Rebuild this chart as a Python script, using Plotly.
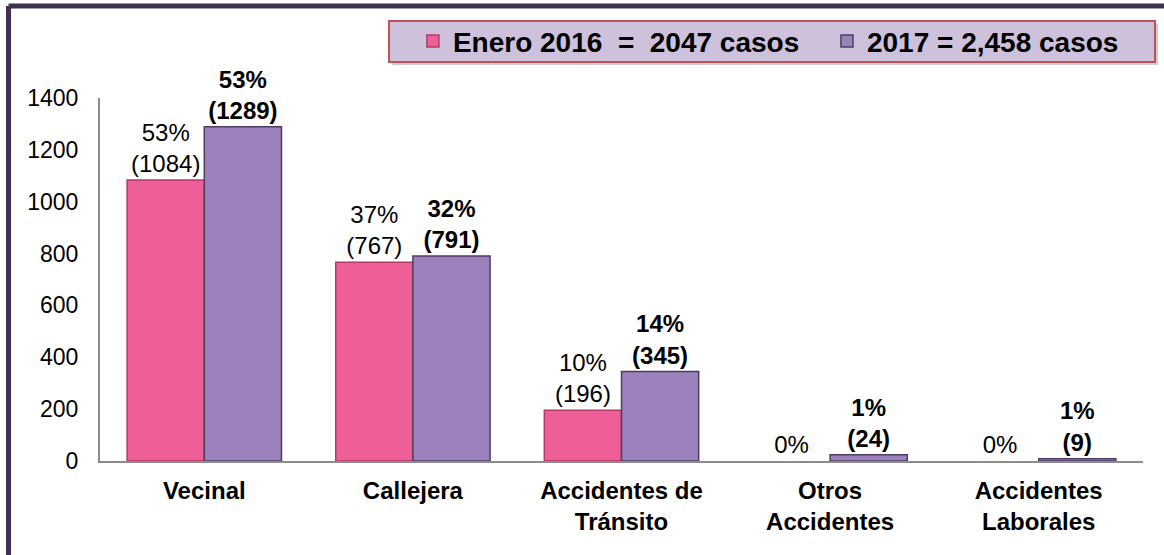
import plotly.graph_objects as go

categories = ["Vecinal", "Callejera", "Accidentes de<br>Tránsito", "Otros<br>Accidentes", "Accidentes<br>Laborales"]
values_2016 = [1084, 767, 196, 0, 0]
values_2017 = [1289, 791, 345, 24, 9]
pct_2016 = ["53%", "37%", "10%", "0%", "0%"]
pct_2017 = ["53%", "32%", "14%", "1%", "1%"]
name_2016 = "Enero 2016\u00a0\u00a0=\u00a0\u00a02047 casos"
name_2017 = "2017 = 2,458 casos"
y_ticks = [0, 200, 400, 600, 800, 1000, 1200, 1400]

FONT = "Liberation Sans, Arial"
text_2016 = [f"{p}<br>({v})" if v > 0 else p for p, v in zip(pct_2016, values_2016)]
text_2017 = [f"<b>{p}<br>({v})</b>" for p, v in zip(pct_2017, values_2017)]
line_w_2016 = [1.5 if v > 0 else 0 for v in values_2016]
line_w_2017 = [1.5 if v > 0 else 0 for v in values_2017]

fig = go.Figure()
fig.add_trace(go.Bar(
    x=categories, y=values_2016, name=name_2016, legend="legend",
    marker=dict(color="#EE5F97", line=dict(color="#B33A69", width=line_w_2016)),
    text=text_2016, textposition="outside", cliponaxis=False,
    textfont=dict(size=24, color="#000000", family=FONT),
))
fig.add_trace(go.Bar(
    x=categories, y=values_2017, name=name_2017, legend="legend2",
    marker=dict(color="#9C82BC", line=dict(color="#4E3D63", width=line_w_2017)),
    text=text_2017, textposition="outside", cliponaxis=False,
    textfont=dict(size=24, color="#000000", family=FONT),
))

legend_style = dict(
    orientation="h", yanchor="middle", y=1.156, xanchor="left",
    bgcolor="rgba(0,0,0,0)", borderwidth=0,
    font=dict(size=28, color="#000000", family=FONT, weight="bold"),
)

fig.update_layout(
    width=1164, height=555,
    margin=dict(l=100, r=21, t=98, b=94),
    paper_bgcolor="#FFFFFF", plot_bgcolor="#FFFFFF",
    barmode="group", bargap=0.26, bargroupgap=0,
    font=dict(family=FONT, size=22, color="#000000"),
    showlegend=True,
    legend=dict(x=0.300, **legend_style),
    legend2=dict(x=0.697, **legend_style),
)
fig.update_xaxes(
    showline=True, linecolor="#8C8C8C", linewidth=2, showgrid=False,
    ticks="", ticklabelstandoff=7,
    tickfont=dict(size=24, family=FONT, weight="bold"),
)
fig.update_yaxes(
    range=[0, 1400], tickvals=y_ticks, showline=True, linecolor="#8C8C8C", linewidth=2,
    showgrid=False, zeroline=False, ticks="", ticklabelstandoff=15,
    tickfont=dict(size=23),
)

# legend box (shadow + box)
fig.add_shape(type="rect", xref="paper", yref="paper", layer="above",
              x0=0.2800, x1=1.0145, y0=1.0910, y1=1.2040,
              line=dict(width=0), fillcolor="rgba(60,60,60,0.25)")
fig.add_shape(type="rect", xref="paper", yref="paper", layer="above",
              x0=0.2771, x1=1.0115, y0=1.0992, y1=1.2121,
              line=dict(color="#C0505A", width=2), fillcolor="#CDC1DC")

# frame border (left and top)
fig.add_shape(type="line", xref="paper", yref="paper",
              x0=-0.0877, x1=-0.0877, y0=-0.3, y1=1.2534,
              line=dict(color="#3F3052", width=5))
fig.add_shape(type="line", xref="paper", yref="paper",
              x0=-0.0877, x1=1.05, y0=1.2534, y1=1.2534,
              line=dict(color="#3F3052", width=5))

fig.write_html("out.html", config={"displayModeBar": False},
               post_script="document.body.style.margin='0px';")
